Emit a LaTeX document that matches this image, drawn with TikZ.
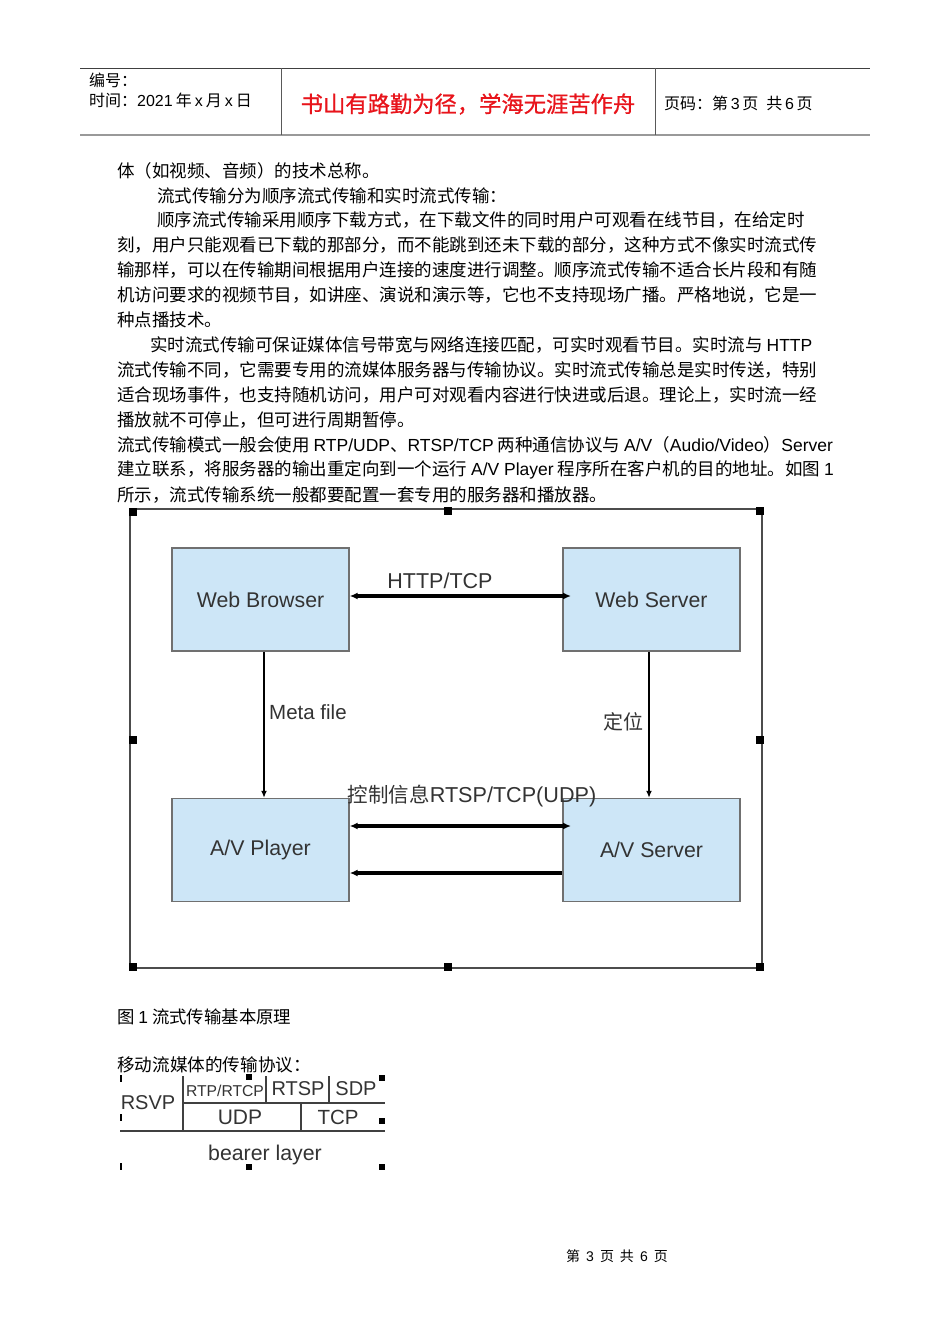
\documentclass[tikz,border=0pt]{standalone}
\usepackage{fontspec}
\setmainfont{Noto Sans CJK SC}
\newfontfamily\arialf{Liberation Sans}
\newfontfamily\mottofont[FakeBold=0.8]{Noto Sans CJK SC}
\usetikzlibrary{arrows.meta}
\definecolor{boxblue}{HTML}{CDE6F7}
\definecolor{boxline}{HTML}{707070}
\definecolor{labgray}{HTML}{333333}
\definecolor{hdrred}{HTML}{E8141B}
\begin{document}
\begin{tikzpicture}[x=1pt,y=-1pt,
  bodyline/.style={anchor=west,inner sep=0pt,font=\fontsize{17.5}{20}\selectfont},
  hdrtext/.style={anchor=west,inner sep=0pt,font=\fontsize{16}{17}\selectfont},
  bluebox/.style={draw=boxline,line width=1.4pt,fill=boxblue,minimum width=177pt,minimum height=103pt,inner sep=0pt,font=\arialf\fontsize{21.3}{24}\selectfont,text=labgray},
  difflabel/.style={inner sep=0pt,font=\arialf\fontsize{20.5}{22}\selectfont,text=labgray},
  thickarrow/.style={line width=3.4pt,{Latex[length=8pt,width=7pt]}-{Latex[length=8pt,width=7pt]}},
  leftarrow/.style={line width=3.4pt,{Latex[length=8pt,width=7pt]}-},
  downarrow/.style={line width=2.4pt,-{Latex[length=7pt,width=6pt]}},
  framerule/.style={line width=1.6pt,draw=black!70},
  handle/.style={fill=black,minimum size=7.5pt,inner sep=0pt},
  smallhandle/.style={fill=black,minimum size=6pt,inner sep=0pt},
  tick/.style={fill=black,minimum width=1.5pt,minimum height=7pt,inner sep=0pt},
  tabrule/.style={line width=1.6pt,draw=black!75},
  tabtext/.style={inner sep=0pt,font=\arialf\fontsize{21}{22}\selectfont,text=labgray}]
\useasboundingbox[fill=white] (0,0) rectangle (950,1344);

% ---------- header ----------
\coordinate (h1) at (80,68); \coordinate (h2) at (870,68);
\coordinate (h3) at (80,135); \coordinate (h4) at (870,135);
\coordinate (v1t) at (281,68); \coordinate (v1b) at (281,135);
\coordinate (v2t) at (655,68); \coordinate (v2b) at (655,135);
\draw[line width=1pt,draw=black!75] (h1) -- (h2);
\draw[line width=2.2pt,draw=black!40] (h3) -- (h4);
\draw[line width=1pt,draw=black!65] (v1t) -- (v1b);
\draw[line width=1pt,draw=black!65] (v2t) -- (v2b);
\node[hdrtext] (bh) at (89,80) {编号：};
\node[hdrtext] (sj) at (89,100) {时间：{\arialf 2021}\hspace{3pt}年\hspace{3pt}{\arialf x}\hspace{3pt}月\hspace{3pt}{\arialf x}\hspace{3pt}日};
\node[inner sep=0pt,font=\mottofont\fontsize{22.3}{24}\selectfont,text=hdrred] (motto) at (468,104) {书山有路勤为径，学海无涯苦作舟};
\node[hdrtext] (ym) at (664,103) {页码：第\,{\arialf 3}\,页\hspace{8pt}共\,{\arialf 6}\,页};

% ---------- body text ----------
\node[bodyline] (l1) at (117,171) {体（如视频、音频）的技术总称。};
\node[bodyline] (l2) at (157,196) {流式传输分为顺序流式传输和实时流式传输：};
\node[bodyline] (l3) at (157,220) {顺序流式传输采用顺序下载方式，在下载文件的同时用户可观看在线节目，在给定时};
\node[bodyline] (l4) at (117,245) {刻，用户只能观看已下载的那部分，而不能跳到还未下载的部分，这种方式不像实时流式传};
\node[bodyline] (l5) at (117,270) {输那样，可以在传输期间根据用户连接的速度进行调整。顺序流式传输不适合长片段和有随};
\node[bodyline] (l6) at (117,295) {机访问要求的视频节目，如讲座、演说和演示等，它也不支持现场广播。严格地说，它是一};
\node[bodyline] (l7) at (117,320) {种点播技术。};
\node[bodyline] (l8) at (150,345) {实时流式传输可保证媒体信号带宽与网络连接匹配，可实时观看节目。实时流与 {\arialf HTTP}};
\node[bodyline] (l9) at (117,370) {流式传输不同，它需要专用的流媒体服务器与传输协议。实时流式传输总是实时传送，特别};
\node[bodyline] (l10) at (117,395) {适合现场事件，也支持随机访问，用户可对观看内容进行快进或后退。理论上，实时流一经};
\node[bodyline] (l11) at (117,420) {播放就不可停止，但可进行周期暂停。};
\node[bodyline] (l12) at (117,445) {流式传输模式一般会使用 {\arialf RTP/UDP}、{\arialf RTSP/TCP} 两种通信协议与 {\arialf A/V}（{\arialf Audio/Video}）{\arialf Server}};
\node[bodyline] (l13) at (117,470) {建立联系，将服务器的输出重定向到一个运行 {\arialf A/V Player} 程序所在客户机的目的地址。如图 {\arialf 1}};
\node[bodyline] (l14) at (117,495) {所示，流式传输系统一般都要配置一套专用的服务器和播放器。};

% ---------- figure 1 ----------
\coordinate (fTL) at (130,509); \coordinate (fTR) at (762,509);
\coordinate (fBL) at (130,968); \coordinate (fBR) at (762,968);
\draw[framerule] (fTL) -- (fTR) -- (fBR) -- (fBL) -- cycle;
\foreach \hx/\hy [count=\i] in {133/512,448/511,760/511,133/740,760/740,133/967,448/967,760/967}
  \node[handle] (hd\i) at (\hx,\hy) {};

\node[bluebox] (wb) at (260.5,599.5) {Web Browser};
\node[bluebox] (ws) at (651.5,599.5) {Web Server};
\node[bluebox] (ap) at (260.5,850) {A/V Player};
\node[bluebox] (as) at (651.5,850) {A/V Server};

\coordinate (httpR) at (571,596);
\draw[thickarrow] (wb.east |- httpR) -- (httpR);
\node[difflabel,font=\arialf\fontsize{21.5}{22}\selectfont] (httplab) at (440,581) {HTTP/TCP};

\draw[downarrow] (wb.south -| 264,0) -- (ap.north -| 264,0);
\node[difflabel,anchor=west] (metalab) at (269,712) {Meta file};
\draw[downarrow] (ws.south -| 649,0) -- (as.north -| 649,0);
\node[difflabel,anchor=east,font=\fontsize{20}{22}\selectfont] (dwlab) at (644,722) {定位};

\node[difflabel,font=\fontsize{20.5}{22}\selectfont] (ctrllab) at (472,796) {控制信息{\arialf\fontsize{21.6}{22}\selectfont RTSP/TCP(UDP)}};
\coordinate (c1R) at (571,826);
\draw[thickarrow] (ap.east |- c1R) -- (c1R);
\coordinate (c2y) at (0,873);
\draw[leftarrow] (ap.east |- c2y) -- (as.west |- c2y);

\node[anchor=west,inner sep=0pt,font=\fontsize{17.4}{20}\selectfont] (cap) at (117,1017) {图 {\arialf 1} 流式传输基本原理};

% ---------- protocol stack ----------
\node[bodyline,font=\fontsize{17.6}{20}\selectfont] (ptitle) at (117,1065) {移动流媒体的传输协议：};
\coordinate (ta) at (183,1076); \coordinate (tb) at (183,1131);
\coordinate (tc) at (183,1103); \coordinate (td) at (385,1103);
\coordinate (te) at (120,1131); \coordinate (tf) at (385,1131);
\coordinate (tg) at (266,1076); \coordinate (th) at (266,1103);
\coordinate (ti) at (329,1076); \coordinate (tj) at (329,1103);
\coordinate (tk) at (301,1103); \coordinate (tl) at (301,1131);
\draw[tabrule] (ta) -- (tb);
\draw[tabrule] (tc) -- (td);
\draw[tabrule] (te) -- (tf);
\draw[tabrule] (tg) -- (th);
\draw[tabrule] (ti) -- (tj);
\draw[tabrule] (tk) -- (tl);
\node[tabtext,font=\arialf\fontsize{20}{22}\selectfont] (rsvp) at (148,1103) {RSVP};
\node[tabtext,font=\arialf\fontsize{15.7}{16}\selectfont] (rtp) at (225,1091) {RTP/RTCP};
\node[tabtext,font=\arialf\fontsize{20}{22}\selectfont] (rtsp) at (298,1089) {RTSP};
\node[tabtext,font=\arialf\fontsize{20}{22}\selectfont] (sdp) at (356,1089) {SDP};
\node[tabtext] (udp) at (240,1117) {UDP};
\node[tabtext,font=\arialf\fontsize{20.5}{22}\selectfont] (tcp) at (338,1117) {TCP};
\node[tabtext,font=\arialf\fontsize{21.3}{22}\selectfont] (bearer) at (265,1155) {bearer layer};
\node[tick] (tk1) at (121,1078) {};
\node[tick] (tk2) at (121,1117) {};
\node[tick] (tk3) at (121,1166) {};
\node[smallhandle] (sh1) at (249,1077) {};
\node[smallhandle] (sh2) at (382,1078) {};
\node[smallhandle] (sh3) at (382,1121) {};
\node[smallhandle] (sh4) at (249,1167) {};
\node[smallhandle] (sh5) at (382,1167) {};

% ---------- footer ----------
\node[inner sep=0pt,font=\fontsize{14}{16}\selectfont] (foot) at (617,1256) {第\hspace{6pt}{\arialf 3}\hspace{6pt}页\hspace{6pt}共\hspace{6pt}{\arialf 6}\hspace{6pt}页};
\end{tikzpicture}
\end{document}
